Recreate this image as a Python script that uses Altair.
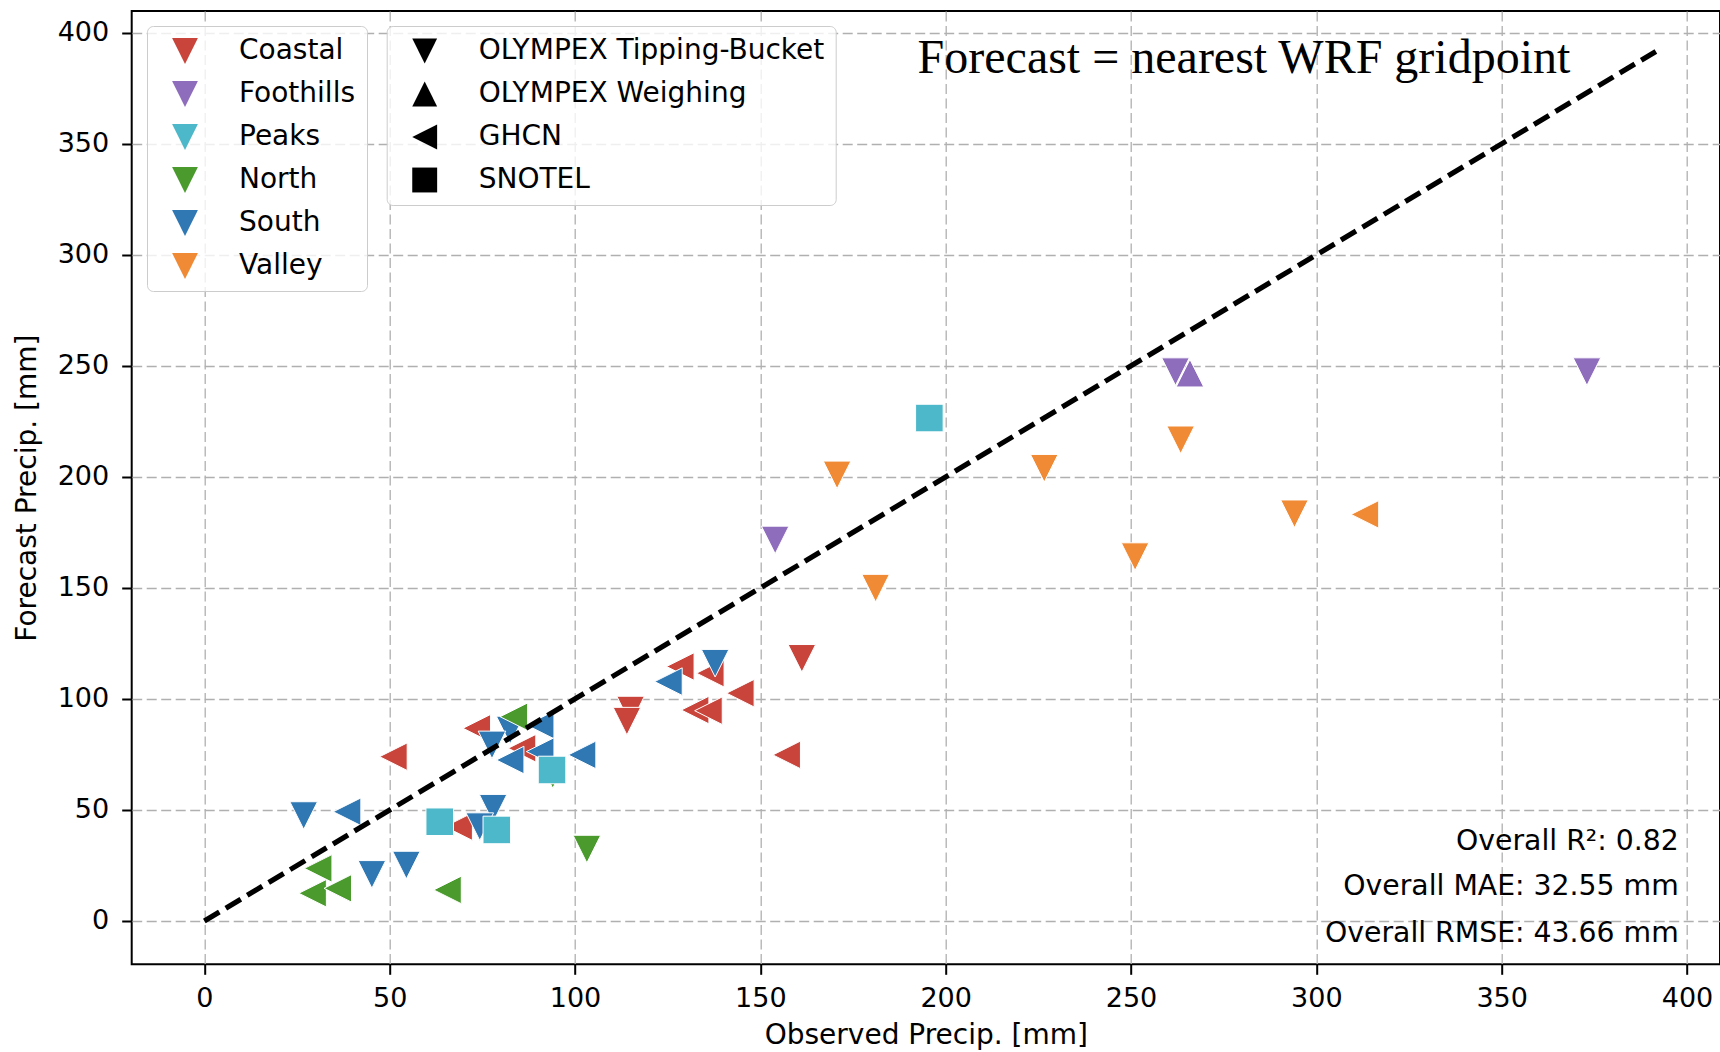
import altair as alt
import pandas as pd

# ---- categories / styling tables ----
regions = ["Coastal", "Foothills", "Peaks", "North", "South", "Valley"]
region_colors = ["#c9453b", "#8f6dbd", "#4db8c9", "#4a9a2d", "#2f78b4", "#f08a35"]
networks = ["OLYMPEX Tipping-Bucket", "OLYMPEX Weighing", "GHCN", "SNOTEL"]
network_paths = [
    "M-1,-1L1,-1L0,1Z",          # triangle down
    "M-1,1L1,1L0,-1Z",           # triangle up
    "M1,-1L1,1L-1,0Z",           # triangle left
    "M-1,-1L1,-1L1,1L-1,1Z",     # square
]
TB, WG, GH, SN = networks

# ---- station values (observed, forecast) in drawing order ----
coastal_net = [GH, GH, GH, GH, TB, TB, GH, GH, GH, GH, GH, TB, GH]
coastal_obs = [51.0, 68.6, 73.5, 85.7, 115.0, 114.0, 128.4, 136.5, 144.6, 132.4, 136.0, 161.2, 157.1]
coastal_fc = [74.0, 42.5, 86.8, 77.8, 95.0, 90.0, 114.6, 111.6, 102.6, 95.0, 94.7, 118.3, 74.8]

south_net = [TB, GH, TB, TB, TB, TB, TB, GH, TB, GH, GH, GH, GH, TB]
south_obs = [26.8, 38.5, 45.2, 54.5, 77.9, 74.3, 82.5, 90.6, 77.6, 90.6, 82.5, 101.9, 125.2, 137.8]
south_fc = [47.5, 49.2, 21.0, 25.2, 50.8, 42.5, 86.0, 88.3, 79.3, 76.3, 72.5, 74.8, 107.8, 116.1]

north_net = [GH, GH, GH, GH, TB, GH, TB]
north_obs = [30.7, 29.2, 36.0, 65.6, 103.2, 83.5, 94.0]
north_fc = [23.7, 12.5, 14.7, 14.0, 32.4, 92.0, 66.0]

foothills_net = [TB, TB, WG, TB]
foothills_obs = [154.0, 262.0, 265.9, 373.0]
foothills_fc = [171.6, 247.4, 246.7, 247.4]

valley_net = [TB, TB, TB, TB, TB, TB, GH]
valley_obs = [170.7, 181.1, 226.6, 263.4, 251.1, 294.1, 313.1]
valley_fc = [200.9, 149.9, 203.9, 216.7, 164.1, 183.4, 183.1]

peaks_net = [SN, SN, SN, SN]
peaks_obs = [195.6, 93.8, 63.5, 78.9]
peaks_fc = [226.5, 68.0, 44.7, 41.0]

one_to_one = [0.0, 391.6]
axis_ticks = [0, 50, 100, 150, 200, 250, 300, 350, 400]
stats_lines = ["Overall R²: 0.82", "Overall MAE: 32.55 mm", "Overall RMSE: 43.66 mm"]
note_text = "Forecast = nearest WRF gridpoint"

groups = [
    ("Coastal", coastal_net, coastal_obs, coastal_fc),
    ("South", south_net, south_obs, south_fc),
    ("North", north_net, north_obs, north_fc),
    ("Foothills", foothills_net, foothills_obs, foothills_fc),
    ("Valley", valley_net, valley_obs, valley_fc),
    ("Peaks", peaks_net, peaks_obs, peaks_fc),
]
rows = []
for reg, nets, obs, fc in groups:
    for n, o, f in zip(nets, obs, fc):
        rows.append({"region": reg, "network": n, "obs": o, "fcst": f})
df = pd.DataFrame(rows)
line_df = pd.DataFrame({"x": one_to_one, "y": one_to_one})

W, H = 1588.3, 953.3
xs = alt.Scale(domain=[-19.6, 408.9], nice=False, zero=False)
ys = alt.Scale(domain=[-19.5, 409.8], nice=False, zero=False)

legend_common = dict(
    orient="none", title=None, labelFont="DejaVu Sans", labelFontSize=28,
    labelColor="black", padding=11, rowPadding=15, labelOffset=40, labelLimit=800,
    symbolOffset=13, fillColor="rgba(255,255,255,0.8)", strokeColor="#cccccc",
    cornerRadius=6, symbolStrokeWidth=0,
)

points = alt.Chart(df).mark_point(
    filled=True, size=760, opacity=1, color="black", stroke="white", strokeWidth=1
).encode(
    x=alt.X("obs:Q", scale=xs, axis=alt.Axis(values=axis_ticks, title="Observed Precip. [mm]",
                                             labelPadding=11, titlePadding=10)),
    y=alt.Y("fcst:Q", scale=ys, axis=alt.Axis(values=axis_ticks, title="Forecast Precip. [mm]",
                                              labelPadding=13, titlePadding=16)),
    color=alt.Color("region:N", scale=alt.Scale(domain=regions, range=region_colors),
                    legend=alt.Legend(legendX=15.3, legendY=15, symbolType="M-1,-1L1,-1L0,1Z",
                                      symbolSize=666, **legend_common)),
    shape=alt.Shape("network:N", scale=alt.Scale(domain=networks, range=network_paths),
                    legend=alt.Legend(legendX=255, legendY=15, symbolSize=620,
                                      symbolFillColor="black", **legend_common)),
)

line = alt.Chart(line_df).mark_line(color="black", strokeWidth=5.2, strokeDash=[17.5, 7.5]).encode(
    x=alt.X("x:Q", scale=xs), y=alt.Y("y:Q", scale=ys)
)

note = alt.Chart(pd.DataFrame({"t": [note_text]})).mark_text(
    font="Liberation Serif", fontSize=48, align="left", baseline="alphabetic", color="black"
).encode(text="t:N", x=alt.value(785.9), y=alt.value(61.7))

stat_layers = []
for txt, yy in zip(stats_lines, [839.0, 884.0, 930.7]):
    stat_layers.append(
        alt.Chart(pd.DataFrame({"t": [txt]})).mark_text(
            font="DejaVu Sans", fontSize=28.3, align="right", baseline="alphabetic", color="black"
        ).encode(text="t:N", x=alt.value(1547), y=alt.value(yy))
    )

chart = alt.layer(points, line, note, *stat_layers).properties(
    width=W, height=H,
    autosize=alt.AutoSizeParams(type="none"),
    padding={"left": 131.7, "top": 11, "right": 0, "bottom": 87.7},
).configure_view(
    stroke="black", strokeWidth=2
).configure_axis(
    labelFont="DejaVu Sans", labelFontSize=27, labelColor="black",
    titleFont="DejaVu Sans", titleFontSize=28, titleFontWeight="normal", titleColor="black",
    tickColor="black", tickWidth=2, tickSize=10, domain=False,
    gridColor="#b0b0b0", gridDash=[10, 4.5], gridWidth=1.3,
)

chart.save("out.html", embed_options={"renderer": "svg", "actions": False})
